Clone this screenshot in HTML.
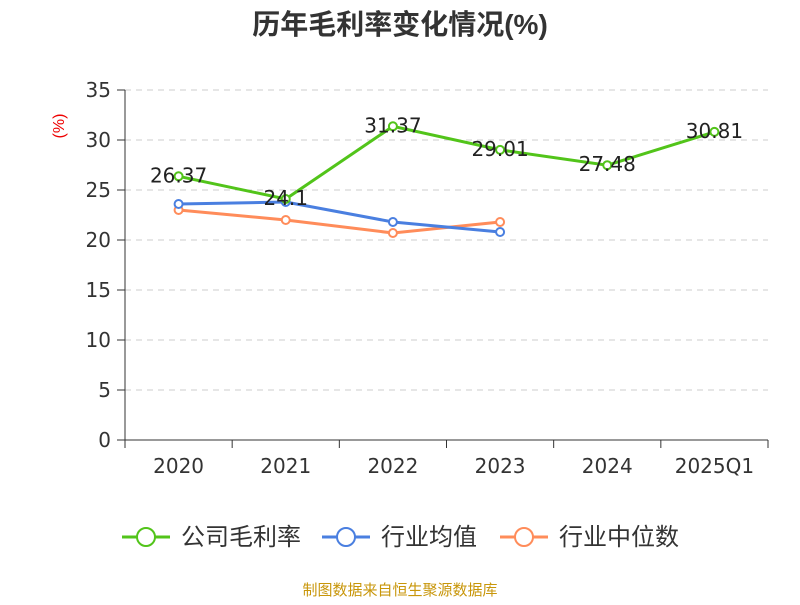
<!DOCTYPE html>
<html><head><meta charset="utf-8"><style>
body{margin:0;background:#fff;font-family:"Liberation Sans","Noto Sans CJK SC",sans-serif}
</style></head><body>
<svg id="chart" width="800" height="600" xmlns="http://www.w3.org/2000/svg" font-family="Liberation Sans, Noto Sans CJK SC, sans-serif">
<text x="400" y="34" text-anchor="middle" font-size="28" font-weight="bold" fill="#333">历年毛利率变化情况(%)</text>
<text x="64" y="126" font-size="16" fill="#e00" text-anchor="middle" transform="rotate(-90 64 126)">(%)</text>
<g id="grid"></g><g id="axes"></g><g id="series"></g>
<g font-size="24" fill="#333">
<g><line x1="122" y1="537" x2="170" y2="537" stroke="#52c41a" stroke-width="3"/><circle cx="146" cy="537" r="9" fill="#fff" stroke="#52c41a" stroke-width="2"/><text x="181" y="545">公司毛利率</text></g>
<g><line x1="322" y1="537" x2="370" y2="537" stroke="#4a7fe0" stroke-width="3"/><circle cx="346" cy="537" r="9" fill="#fff" stroke="#4a7fe0" stroke-width="2"/><text x="381" y="545">行业均值</text></g>
<g><line x1="500" y1="537" x2="548" y2="537" stroke="#ff8c5a" stroke-width="3"/><circle cx="524" cy="537" r="9" fill="#fff" stroke="#ff8c5a" stroke-width="2"/><text x="559" y="545">行业中位数</text></g>
</g>
<text x="400" y="595" text-anchor="middle" font-size="15" fill="#c8960a">制图数据来自恒生聚源数据库</text>
</svg>
<script>
const categories=["2020","2021","2022","2023","2024","2025Q1"];
const companyValues=[26.37,24.1,31.37,29.01,27.48,30.81];
const industryAvg=[23.6,23.8,21.8,20.8];
const industryMedian=[23.0,22.0,20.7,21.8];
const yTicks=[0,5,10,15,20,25,30,35];
const NS="http://www.w3.org/2000/svg";
const FONT="DejaVu Sans, Liberation Sans, sans-serif";
const x0=125,x1=768,yBase=440,yTop=90,yMax=35;
const bw=(x1-x0)/categories.length;
const xs=i=>x0+bw*(i+0.5);
const ys=v=>yBase-(v/yMax)*(yBase-yTop);
function mk(tag,attrs,parent){const e=document.createElementNS(NS,tag);for(const k in attrs)e.setAttribute(k,attrs[k]);parent.appendChild(e);return e;}
const grid=document.getElementById('grid'),axes=document.getElementById('axes'),ser=document.getElementById('series');
yTicks.forEach(t=>{
 const y=ys(t);
 if(t>0){const g=mk('line',{x1:x0,x2:x1,y1:y,y2:y,stroke:'#ccc','stroke-dasharray':'6,5'},grid);
 
 }
 mk('line',{x1:x0-8,x2:x0,y1:y,y2:y,stroke:'#333'},axes);
 const l=mk('text',{x:x0-14,y:y+7,'text-anchor':'end','font-size':'20',fill:'#333','font-family':FONT},axes);
 l.textContent=t;
 
 
});
mk('line',{x1:x0,x2:x0,y1:yTop,y2:yBase,stroke:'#333'},axes);
mk('line',{x1:x0,x2:x1,y1:yBase,y2:yBase,stroke:'#333'},axes);
for(let i=0;i<=categories.length;i++){const x=x0+bw*i;mk('line',{x1:x,x2:x,y1:yBase,y2:yBase+8,stroke:'#333'},axes);}
categories.forEach((c,i)=>{
 const l=mk('text',{x:xs(i),y:yBase+33,'text-anchor':'middle','font-size':'20',fill:'#333','font-family':FONT},axes);
 l.textContent=c;
 
 
});
function series(vals,color,name){
 const p=mk('polyline',{points:vals.map((v,i)=>xs(i)+','+ys(v)).join(' '),fill:'none',stroke:color,'stroke-width':3},ser);
 
 
 vals.forEach((v,i)=>{
  const c=mk('circle',{cx:xs(i),cy:ys(v),r:4,fill:'#fff',stroke:color,'stroke-width':2},ser);
  
  
 });
}
series(industryMedian,'#ff8c5a','industry-median');
series(industryAvg,'#4a7fe0','industry-avg');
series(companyValues,'#52c41a','company');
companyValues.forEach((v,i)=>{
 const t=mk('text',{x:xs(i),y:ys(v)+6,'text-anchor':'middle','font-size':'20',fill:'#222','font-family':FONT},ser);
 t.textContent=v;
 
 
});
</script>
</body></html>
